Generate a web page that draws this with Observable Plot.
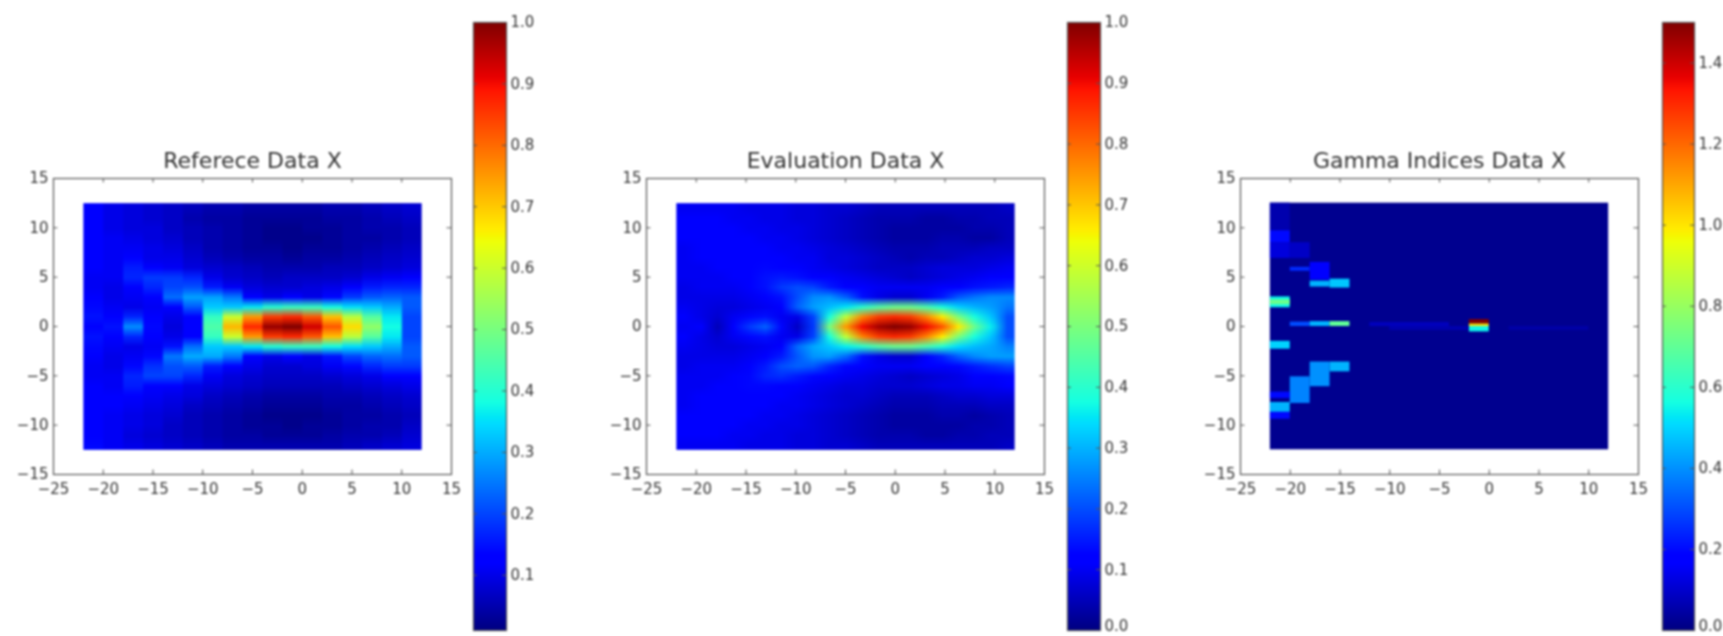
<!DOCTYPE html>
<html><head><meta charset="utf-8">
<script src="https://cdn.jsdelivr.net/npm/d3@7"></script>
<script src="https://cdn.jsdelivr.net/npm/@observablehq/plot@0.6"></script>
<style>
html,body{margin:0;padding:0;background:#fff;overflow:hidden}
#fig{position:relative;width:1723px;height:636px;overflow:hidden;filter:blur(1px)}
</style></head><body><div id="fig"></div>
<script>
const titles = ["Referece Data X","Evaluation Data X","Gamma Indices Data X"];
const xTicks = [-25,-20,-15,-10,-5,0,5,10,15];
const yTicks = [-15,-10,-5,0,5,10,15];
const barTicks1 = [0.1,0.2,0.3,0.4,0.5,0.6,0.7,0.8,0.9,1.0];
const barTicks2 = [0.1,0.2,0.3,0.4,0.5,0.6,0.7,0.8,0.9,1.0];
const barTicks3 = [0.2,0.4,0.6,0.8,1.0,1.2,1.4];

// Reference: 17 columns x 25 rows, y = 12 at top to y = -12 at bottom
const refRows = [
[.13,.10,.09,.08,.07,.06,.05,.05,.04,.04,.04,.04,.05,.05,.06,.07,.08],
[.13,.10,.09,.08,.07,.05,.04,.04,.03,.03,.03,.03,.04,.04,.05,.06,.07],
[.13,.10,.09,.09,.07,.06,.05,.04,.03,.02,.02,.03,.03,.04,.05,.05,.06],
[.13,.11,.10,.09,.08,.06,.05,.04,.03,.02,.02,.02,.03,.04,.04,.05,.06],
[.13,.11,.11,.10,.09,.07,.05,.04,.03,.03,.02,.03,.03,.04,.05,.06,.07],
[.12,.11,.12,.10,.10,.08,.06,.05,.04,.04,.03,.04,.04,.05,.06,.07,.08],
[.12,.11,.16,.12,.11,.09,.08,.07,.06,.05,.05,.05,.06,.06,.07,.08,.09],
[.11,.11,.17,.19,.19,.17,.10,.08,.07,.06,.07,.07,.07,.08,.10,.11,.12],
[.11,.10,.13,.17,.20,.21,.16,.11,.09,.08,.08,.09,.10,.13,.16,.17,.17],
[.12,.10,.11,.13,.24,.29,.29,.25,.12,.10,.12,.10,.14,.19,.22,.23,.22],
[.14,.11,.10,.11,.13,.22,.33,.33,.36,.40,.42,.42,.38,.35,.33,.30,.22],
[.15,.13,.17,.12,.10,.13,.42,.60,.75,.85,.87,.82,.71,.58,.46,.36,.20],
[.13,.15,.27,.14,.09,.12,.45,.72,.87,.98,1.0,.93,.82,.68,.53,.38,.20],
[.15,.13,.17,.12,.10,.13,.42,.60,.75,.85,.87,.82,.71,.58,.46,.36,.20],
[.14,.11,.10,.11,.15,.24,.33,.33,.36,.40,.42,.42,.38,.35,.33,.30,.22],
[.12,.10,.11,.14,.25,.30,.30,.25,.13,.10,.12,.10,.15,.20,.23,.24,.22],
[.11,.10,.14,.18,.21,.22,.16,.12,.10,.08,.08,.09,.11,.14,.17,.19,.19],
[.11,.11,.17,.20,.20,.17,.11,.09,.08,.07,.07,.07,.08,.09,.10,.12,.13],
[.12,.11,.16,.13,.12,.10,.09,.08,.07,.06,.06,.06,.06,.07,.08,.09,.10],
[.12,.12,.13,.11,.10,.09,.07,.06,.05,.04,.04,.04,.05,.05,.06,.07,.08],
[.13,.12,.11,.10,.09,.07,.06,.05,.04,.03,.03,.03,.04,.04,.05,.06,.07],
[.13,.11,.10,.09,.08,.06,.05,.04,.03,.02,.02,.02,.03,.04,.04,.05,.06],
[.13,.11,.10,.09,.07,.06,.05,.04,.03,.03,.02,.03,.03,.04,.05,.05,.07],
[.13,.11,.09,.08,.07,.06,.05,.04,.04,.03,.03,.03,.04,.05,.05,.06,.08],
[.14,.11,.10,.09,.08,.07,.06,.05,.05,.05,.05,.05,.05,.06,.07,.08,.09]
];

// Evaluation: 21 columns x 25 rows, y = 12 at top to y = -12 at bottom
const evalRows = [
[.10,.10,.10,.10,.09,.09,.09,.08,.08,.07,.07,.06,.05,.05,.05,.05,.05,.05,.05,.05,.06],
[.11,.11,.11,.10,.10,.09,.09,.08,.08,.07,.06,.05,.04,.04,.04,.03,.03,.04,.04,.05,.05],
[.11,.11,.11,.11,.10,.10,.09,.09,.08,.07,.06,.05,.04,.03,.03,.03,.03,.03,.04,.04,.05],
[.11,.11,.12,.11,.11,.10,.10,.09,.08,.07,.06,.05,.04,.03,.03,.03,.04,.04,.03,.03,.05],
[.10,.11,.12,.12,.11,.11,.10,.10,.09,.08,.07,.06,.05,.04,.04,.04,.05,.05,.05,.06,.06],
[.10,.11,.11,.12,.12,.11,.11,.10,.10,.08,.08,.07,.06,.05,.04,.05,.05,.06,.07,.07,.08],
[.10,.10,.11,.11,.12,.13,.12,.11,.10,.09,.08,.07,.06,.06,.06,.07,.08,.08,.08,.09,.10],
[.10,.10,.10,.11,.12,.14,.15,.14,.12,.11,.10,.09,.08,.07,.06,.07,.08,.09,.10,.11,.12],
[.09,.10,.10,.10,.12,.14,.18,.20,.19,.15,.12,.11,.10,.10,.10,.10,.11,.12,.14,.15,.16],
[.09,.09,.09,.09,.10,.11,.14,.20,.26,.27,.22,.14,.09,.07,.07,.10,.15,.21,.24,.26,.26],
[.10,.09,.08,.08,.09,.10,.12,.22,.28,.31,.35,.40,.45,.48,.48,.44,.38,.33,.30,.28,.24],
[.11,.09,.07,.10,.13,.14,.10,.09,.19,.38,.58,.77,.85,.87,.85,.77,.66,.50,.38,.32,.20],
[.10,.11,.05,.12,.18,.22,.13,.06,.18,.50,.75,.90,.97,1.0,.98,.90,.82,.66,.48,.36,.20],
[.11,.09,.07,.10,.13,.14,.10,.09,.19,.38,.58,.77,.85,.87,.85,.77,.66,.50,.38,.32,.20],
[.10,.09,.08,.08,.09,.10,.12,.23,.29,.32,.36,.40,.45,.48,.48,.44,.39,.34,.31,.29,.25],
[.09,.09,.09,.09,.10,.12,.15,.21,.27,.28,.23,.14,.09,.07,.07,.11,.16,.22,.26,.28,.28],
[.09,.10,.10,.10,.12,.15,.20,.22,.21,.16,.13,.11,.10,.10,.10,.11,.12,.13,.15,.17,.19],
[.10,.10,.10,.11,.13,.16,.17,.15,.13,.11,.10,.09,.08,.07,.06,.07,.08,.09,.11,.12,.13],
[.10,.10,.11,.11,.13,.13,.12,.11,.10,.09,.08,.08,.07,.07,.07,.08,.09,.09,.10,.10,.11],
[.10,.11,.11,.12,.12,.11,.11,.10,.09,.08,.07,.07,.06,.05,.05,.05,.06,.07,.07,.08,.08],
[.10,.11,.12,.12,.11,.11,.10,.10,.09,.08,.07,.06,.05,.04,.04,.04,.05,.05,.05,.06,.06],
[.11,.11,.12,.11,.11,.10,.10,.09,.08,.07,.06,.05,.04,.03,.03,.03,.04,.04,.03,.04,.05],
[.11,.11,.11,.11,.10,.10,.09,.09,.08,.07,.06,.05,.04,.03,.03,.03,.03,.03,.04,.04,.05],
[.11,.11,.11,.10,.10,.09,.09,.08,.08,.07,.06,.05,.04,.04,.04,.03,.03,.04,.04,.05,.05],
[.10,.10,.10,.10,.09,.09,.09,.08,.08,.07,.07,.06,.05,.05,.05,.05,.05,.05,.05,.05,.06]
];

// Gamma indices: background plus the blocks that stand out from it
const gammaBg = [{x1:-22,x2:12,y1:-12.5,y2:12.5,v:.02}];
const gammaX1 = [-22,-22,-22,-20,-20,-18,-18,-16,-22,-22,-20,-18,-16,-16,-22,-16,-18,-20,-22,-22,-22,-12,-2,-2,-2,-10,2];
const gammaX2 = [-20,-20,-20,-18,-18,-16,-16,-14,-20,-20,-18,-16,-14,-14,-20,-14,-16,-18,-20,-20,-20,-4,0,0,0,-2,10];
const gammaY1 = [9.7,8.5,6.9,6.9,5.6,4.7,4,3.9,1.9,2.2,0,0,.9,0,-2.3,-4.6,-6.1,-7.8,-7.3,-8.7,-9.4,0,.25,0,-.55,-.4,-.4];
const gammaY2 = [12.5,9.7,8.5,8.5,6,6.5,4.6,4.8,3,2.7,.45,.5,.9,.5,-1.5,-3.6,-3.6,-5.1,-6.65,-7.7,-8.7,.4,.7,.25,0,0,0];
const gammaV  = [.06,.2,.12,.09,.25,.17,.45,.48,.55,.72,.3,.45,.2,.7,.5,.45,.4,.38,.2,.45,.2,.08,1.5,1.0,.55,.06,.05];

const jetR = d3.scaleLinear([0,.35,.66,.89,1],[0,0,1,1,.5]).clamp(true);
const jetG = d3.scaleLinear([0,.125,.375,.64,.91,1],[0,0,1,1,0,0]).clamp(true);
const jetB = d3.scaleLinear([0,.11,.34,.65,1],[.5,1,1,0,0]).clamp(true);
const jet = t => `rgb(${Math.round(255*jetR(t))},${Math.round(255*jetG(t))},${Math.round(255*jetB(t))})`;

const ink = "#333", frameInk = "#555", FS = 15;
const base = {fontFamily:"'DejaVu Sans'",fontSize:FS+"px",color:ink,background:"transparent",overflow:"visible"};
const fig = document.getElementById("fig");
function place(node,left,top){node.style.position="absolute";node.style.left=left+"px";node.style.top=top+"px";fig.appendChild(node);}

function panel(left,title,color,heat){
  const top=130, mL=50, mR=10, mT=48, mB=40;
  const n=Plot.plot({
    width:398+mL+mR,height:296+mT+mB,marginLeft:mL,marginRight:mR,marginTop:mT,marginBottom:mB,
    style:base,
    x:{domain:[-25,15],label:null},
    y:{domain:[-15,15],label:null},
    color,
    marks:[
      ...heat,
      Plot.ruleX(xTicks,{x:d=>d,y1:-15,y2:-14.55,stroke:frameInk}),
      Plot.ruleX(xTicks,{x:d=>d,y1:15,y2:14.55,stroke:frameInk}),
      Plot.ruleY(yTicks,{y:d=>d,x1:-25,x2:-24.55,stroke:frameInk}),
      Plot.ruleY(yTicks,{y:d=>d,x1:15,x2:14.55,stroke:frameInk}),
      Plot.frame({stroke:frameInk,strokeWidth:1.2}),
      Plot.axisX({ticks:xTicks,tickSize:0,tickPadding:9,fontSize:FS,label:null}),
      Plot.axisY({ticks:yTicks,tickSize:0,tickPadding:5,fontSize:FS,label:null}),
      Plot.text([title],{frameAnchor:"top",dy:-26,fontSize:22,fill:ink,fontFamily:"'DejaVu Sans'"})
    ]
  });
  place(n,left-mL,top);
}

function bar(left,w,dom,ticks,color,zeroTick){
  const top=8, mT=14, mB=6, H=608, mR=40;
  const n=Plot.plot({
    width:w+mR+1,height:H+mT+mB,marginLeft:1,marginRight:mR,marginTop:mT,marginBottom:mB,
    style:base,
    x:{domain:[0,1],axis:null},
    y:{domain:dom,label:null},
    color,
    marks:[
      Plot.raster({fill:(x,y)=>y,x1:0,x2:1,y1:dom[0],y2:dom[1],pixelSize:1}),
      Plot.ruleY(ticks,{y:d=>d,x1:0,x2:.12,stroke:frameInk}),
      Plot.ruleY(ticks,{y:d=>d,x1:.88,x2:1,stroke:frameInk}),
      Plot.frame({stroke:frameInk,strokeWidth:1.2}),
      Plot.axisY({anchor:"right",ticks,tickSize:0,tickPadding:4,fontSize:FS,tickFormat:d=>d.toFixed(1),label:null}),
      ...zeroTick
    ]
  });
  place(n,left-1,top);
}
// The lowest colour-bar label sits a little higher so that it is not cut by the page edge
const zeroLabel = () => [Plot.axisY({anchor:"right",ticks:[0],tickSize:0,tickPadding:4,fontSize:FS,dy:-4,tickFormat:d=>d.toFixed(1),label:null})];

const scale1={type:"linear",domain:[.01,1],interpolate:jet,clamp:true};
const scale2={type:"linear",domain:[0,1],interpolate:jet,clamp:true};
const scale3={type:"linear",domain:[0,1.5],interpolate:jet,clamp:true};

// Each column is repeated so the browser only smooths the reference image up and down, as in the original
const repeat = 8;
const refWide = refRows.flatMap(row => row.flatMap(v => Array(repeat).fill(v)));

panel(53,titles[0],scale1,[Plot.raster(refWide,{width:17*repeat,height:25,x1:-22,x2:12,y1:12.5,y2:-12.5,fill:d=>d})]);
panel(646,titles[1],scale2,[Plot.raster(evalRows.flat(),{width:21,height:25,x1:-22,x2:12,y1:12.5,y2:-12.5,fill:d=>d})]);
const gammaCells=gammaV.map((v,i)=>({x1:gammaX1[i],x2:gammaX2[i],y1:gammaY1[i],y2:gammaY2[i],v}));
panel(1240,titles[2],scale3,[
  Plot.rect(gammaBg,{x1:"x1",x2:"x2",y1:"y1",y2:"y2",fill:"v"}),
  Plot.rect(gammaCells,{x1:"x1",x2:"x2",y1:"y1",y2:"y2",fill:"v"})
]);
bar(473,33,[.01,1],barTicks1,scale1,[]);
bar(1067,33,[0,1],barTicks2,scale2,zeroLabel());
bar(1662,32,[0,1.5],barTicks3,scale3,zeroLabel());
</script></body></html>
